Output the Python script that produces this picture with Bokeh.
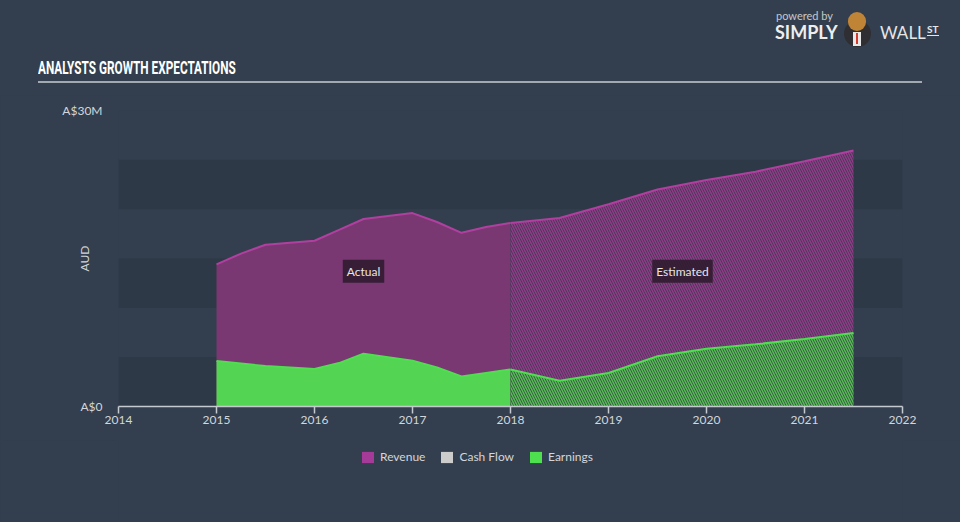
from bokeh.plotting import figure
from bokeh.layouts import column
from bokeh.models import (Range1d, FixedTicker, Legend, LegendItem, BoxAnnotation, Label, Div,
                          InlineStyleSheet)
from bokeh.embed import file_html
from bokeh.resources import INLINE

# ---- data (A$ millions) ----
actual_years = [2015.0, 2015.25, 2015.5, 2015.75, 2016.0, 2016.25, 2016.5, 2016.75,
                2017.0, 2017.25, 2017.5, 2017.75, 2018.0]
actual_revenue = [14.4, 15.5, 16.4, 16.6, 16.8, 17.9, 19.0, 19.3, 19.6, 18.7, 17.6, 18.2, 18.6]
actual_earnings = [4.6, 4.35, 4.1, 3.95, 3.8, 4.4, 5.35, 5.0, 4.65, 3.95, 3.05, 3.4, 3.75]

est_years = [2018.0, 2018.5, 2019.0, 2019.5, 2020.0, 2020.5, 2021.0, 2021.5]
est_revenue = [18.6, 19.1, 20.5, 22.0, 22.95, 23.8, 24.85, 25.95]
est_earnings = [3.75, 2.6, 3.4, 5.1, 5.85, 6.3, 6.85, 7.45]

x_ticks = [2014, 2015, 2016, 2017, 2018, 2019, 2020, 2021, 2022]
y_ticks = [0, 30]
y_tick_labels = {0: "A$0", 30: "A$30M"}
band_ticks = [0, 5, 10, 15, 20, 25, 30]
legend_labels = ["Revenue", "Cash Flow", "Earnings"]
title_text = "ANALYSTS GROWTH EXPECTATIONS"

# ---- style ----
W = 960
BG = "#333f4e"
BAND = "#2e3947"
FONT = "Lato"
TXT = "#d3d6da"
TOP_H, MAIN_H, LEG_H = 95, 345, 82
LEFT, RIGHT, MAIN_TOP, MAIN_BOTTOM = 118, 58, 15, 34

css = InlineStyleSheet(css=f"""
:host {{ background-color: {BG}; }}
rect[fill="#FFFFFF"], rect[fill="#ffffff"], rect[fill="white"] {{ fill: {BG} !important; }}
""")


def style_fig(f):
    f.background_fill_color = None
    f.border_fill_color = BG
    f.outline_line_color = None
    f.xgrid.visible = False
    f.ygrid.visible = False
    f.stylesheets = [css]
    f.styles = {"background-color": BG}


# ---------- header (title + logo) ----------
header_html = f"""
<div style="position:relative;width:{W}px;height:{TOP_H}px;background:{BG};overflow:hidden;">
  <div style="position:absolute;left:38px;top:58px;white-space:nowrap;color:#ffffff;
       font-family:Roboto;font-weight:700;font-size:19px;line-height:20px;
       transform:scaleX(0.62);transform-origin:left top;">{title_text}</div>
  <div style="position:absolute;left:38px;top:81px;width:884px;height:2px;background:#a3a9b1;"></div>
  <div style="position:absolute;left:776px;top:10px;color:#c4c8cc;font-family:{FONT};
       font-size:11px;line-height:12px;white-space:nowrap;">powered by</div>
  <div style="position:absolute;left:775px;top:24px;color:#eeeeee;font-family:{FONT};
       font-weight:bold;font-size:18px;line-height:17px;white-space:nowrap;">SIMPLY</div>
  <div style="position:absolute;left:844px;top:20px;width:27px;height:27px;border-radius:14px;
       background:#2f2f33;"></div>
  <div style="position:absolute;left:853px;top:32px;width:8px;height:14px;background:#e8e8e8;"></div>
  <div style="position:absolute;left:856px;top:33px;width:2px;height:11px;background:#d8382c;"></div>
  <div style="position:absolute;left:848px;top:12px;width:18px;height:19px;border-radius:9px;
       background:#c08436;"></div>
  <div style="position:absolute;left:880px;top:24px;color:#e6e6e6;font-family:{FONT};
       font-size:17px;line-height:17px;white-space:nowrap;">WALL</div>
  <div style="position:absolute;left:927px;top:24px;color:#e6e6e6;font-family:{FONT};
       font-weight:bold;font-size:10px;line-height:10px;padding-bottom:1px;
       border-bottom:1.5px solid #e6e6e6;">ST</div>
</div>
"""
header = Div(text=header_html, width=W, height=TOP_H, margin=0)

# ---------- main chart ----------
p = figure(width=W, height=MAIN_H, x_range=Range1d(2014, 2022), y_range=Range1d(0, 30),
           output_backend="svg", toolbar_location=None,
           min_border_left=LEFT, min_border_right=RIGHT,
           min_border_top=MAIN_TOP, min_border_bottom=MAIN_BOTTOM)
style_fig(p)

for lo, hi in zip(band_ticks[0::2], band_ticks[1::2]):
    p.add_layout(BoxAnnotation(bottom=lo, top=hi, fill_color=BAND, fill_alpha=1.0,
                               line_color=None, level="underlay"))

p.xaxis.ticker = FixedTicker(ticks=x_ticks)
p.xaxis.axis_line_color = "#c5cad1"
p.xaxis.axis_line_width = 1.5
p.xaxis.major_tick_line_color = "#c5cad1"
p.xaxis.major_tick_line_width = 1.5
p.xaxis.major_tick_out = 7
p.xaxis.major_tick_in = 0
p.xaxis.minor_tick_line_color = None
p.xaxis.major_label_standoff = 2
p.xaxis.major_label_text_color = TXT
p.xaxis.major_label_text_font = FONT
p.xaxis.major_label_text_font_size = "12px"

p.yaxis.ticker = FixedTicker(ticks=y_ticks)
p.yaxis.major_label_overrides = y_tick_labels
p.yaxis.axis_line_color = None
p.yaxis.major_tick_line_color = None
p.yaxis.minor_tick_line_color = None
p.yaxis.major_tick_out = 0
p.yaxis.major_tick_in = 0
p.yaxis.major_label_standoff = 16
p.yaxis.major_label_text_color = TXT
p.yaxis.major_label_text_font = FONT
p.yaxis.major_label_text_font_size = "12px"
p.yaxis.axis_label = "AUD"
p.yaxis.axis_label_standoff = -33
p.yaxis.axis_label_text_color = TXT
p.yaxis.axis_label_text_font = FONT
p.yaxis.axis_label_text_font_size = "12px"
p.yaxis.axis_label_text_font_style = "normal"

# revenue
p.varea(x=actual_years, y1=0, y2=actual_revenue, fill_color="#7a3873")
p.varea(x=est_years, y1=0, y2=est_revenue, fill_color="#3b3550",
        hatch_pattern="\\", hatch_color="#8e3c86", hatch_scale=5, hatch_weight=1.6)
p.line(x=actual_years, y=actual_revenue, line_color="#b13fa0", line_width=2)
p.line(x=est_years, y=est_revenue, line_color="#b13fa0", line_width=2)

# earnings
p.varea(x=actual_years, y1=0, y2=actual_earnings, fill_color="#53d553")
p.varea(x=est_years, y1=0, y2=est_earnings, fill_color="#33473f",
        hatch_pattern="\\", hatch_color="#55b955", hatch_scale=5, hatch_weight=1.6)
p.line(x=actual_years, y=actual_earnings, line_color="#4fde4f", line_width=2)
p.line(x=est_years, y=est_earnings, line_color="#4fde4f", line_width=2)

# Actual / Estimated tags
for txt, xv in [("Actual", 2016.5), ("Estimated", 2019.755)]:
    p.add_layout(Label(x=xv, y=13.7, text=txt, text_align="center", text_baseline="middle",
                       text_font=FONT, text_font_size="12px", text_color="#e6e6e6",
                       background_fill_color="#2c1a2c", background_fill_alpha=0.85,
                       padding=4))

# ---------- legend strip (frame aligned with the chart frame) ----------
leg = figure(width=W, height=LEG_H, x_range=Range1d(0, 1), y_range=Range1d(0, 1),
             output_backend="svg", toolbar_location=None,
             min_border_left=LEFT, min_border_right=RIGHT, min_border_top=0, min_border_bottom=0,
             x_axis_type=None, y_axis_type=None)
style_fig(leg)
leg_colors = ["#a63a98", "#cccccc", "#4fe04f"]
items = []
for lab, col in zip(legend_labels, leg_colors):
    # legend swatch renderer: one unit square kept outside the strip's visible range
    r = leg.quad(left=[2], right=[3], bottom=[2], top=[3], fill_color=col, line_color=None)
    items.append(LegendItem(label=lab, renderers=[r]))
legend = Legend(items=items, orientation="horizontal", location=(242, 58),
                background_fill_alpha=0, border_line_color=None,
                label_text_color=TXT, label_text_font=FONT, label_text_font_size="12px",
                glyph_width=15, glyph_height=14, spacing=14, label_standoff=5,
                padding=0, margin=0, label_height=14)
leg.add_layout(legend)

layout = column(header, p, leg, spacing=0)
layout.styles = {"background-color": BG}
html = file_html(layout, INLINE)
html = html.replace("<body>", f'<body style="margin:0;background:{BG};">', 1)
open("out.html", "w").write(html)
